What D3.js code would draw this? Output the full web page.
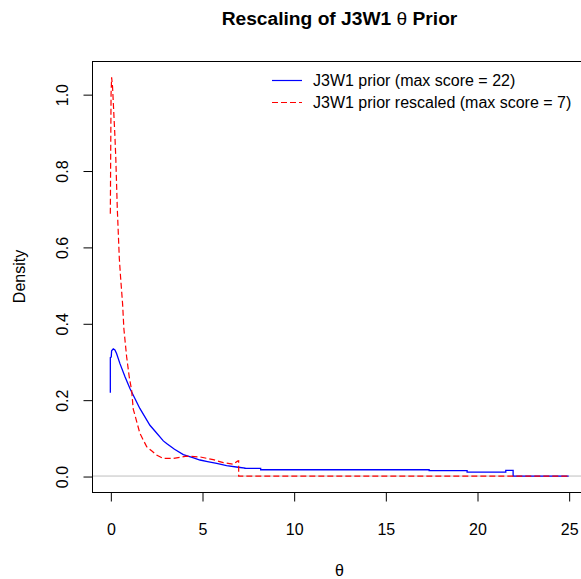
<!DOCTYPE html>
<html>
<head>
<meta charset="utf-8">
<script src="https://cdn.jsdelivr.net/npm/d3@7"></script>
<style>
  html, body { margin: 0; padding: 0; background: #fff; }
  svg { display: block; }
  text { font-family: "Liberation Sans", Arial, sans-serif; fill: #000; }
</style>
</head>
<body>
<svg id="chart" width="581" height="579"></svg>
<script>
// ---- Data ----
const xTicks = [0, 5, 10, 15, 20, 25];
const yTicks = [0.0, 0.2, 0.4, 0.6, 0.8, 1.0];
const yTickLabels = ["0.0", "0.2", "0.4", "0.6", "0.8", "1.0"];
const seriesNames = ["J3W1 prior (max score = 22)", "J3W1 prior rescaled (max score = 7)"];

// J3W1 prior (max score = 22): [theta, density]
const priorTheta = [0, 0, 0.05, 0.07, 0.16, 0.25, 0.34, 0.52, 0.8, 1.07, 1.34, 1.61, 2.16, 2.43, 2.89, 3.07, 3.5, 3.98, 4.5, 4.89, 5.3, 5.8, 6.34, 6.97, 7.34, 7.34, 8.2, 8.2, 17.39, 17.39, 19.46, 19.46, 21.57, 21.57, 21.97, 21.97, 25];
const priorDensity = [0.218, 0.31, 0.312, 0.328, 0.333, 0.330, 0.321, 0.295, 0.26, 0.229, 0.203, 0.177, 0.133, 0.118, 0.092, 0.085, 0.070, 0.056, 0.048, 0.042, 0.038, 0.033, 0.027, 0.023, 0.021, 0.020, 0.020, 0.0165, 0.0165, 0.014, 0.014, 0.0105, 0.0105, 0.015, 0.015, 0, 0];

// J3W1 prior rescaled (max score = 7): [theta, density]
const rescaledTheta = [0, 0.04, 0.07, 0.12, 0.18, 0.25, 0.3, 0.38, 0.49, 0.56, 0.67, 0.74, 0.89, 1.03, 1.16, 1.25, 1.34, 1.61, 1.98, 2.25, 2.52, 2.89, 3.4, 3.8, 4.16, 4.89, 5.61, 6.16, 6.7, 6.94, 7, 7, 25];
const rescaledDensity = [0.687, 1.0, 1.044, 1.02, 0.96, 0.89, 0.83, 0.70, 0.57, 0.52, 0.45, 0.385, 0.312, 0.26, 0.225, 0.175, 0.160, 0.112, 0.077, 0.066, 0.055, 0.046, 0.046, 0.049, 0.052, 0.050, 0.043, 0.035, 0.031, 0.039, 0.040, 0, 0];

// ---- Layout ----
const svg = d3.select("#chart");
const mLeft = 92, mRight = 587, mTop = 61, mBottom = 492;

const x = d3.scaleLinear().domain([-1, 26]).range([mLeft, mRight]);
const y = d3.scaleLinear().domain([-0.0418, 1.0868]).range([mBottom, mTop]);

// zero reference line (grey)
svg.append("line")
  .attr("x1", mLeft).attr("x2", mRight)
  .attr("y1", y(0)).attr("y2", y(0))
  .attr("stroke", "#BEBEBE").attr("stroke-width", 1);

const line = d3.line().x(d => x(d[0])).y(d => y(d[1]));
const prior = priorTheta.map((t, i) => [t, priorDensity[i]]);
const rescaled = rescaledTheta.map((t, i) => [t, rescaledDensity[i]]);

svg.append("path").datum(prior)
  .attr("d", line).attr("fill", "none")
  .attr("stroke", "#0000FF").attr("stroke-width", 1.3);

svg.append("path").datum(rescaled)
  .attr("d", line).attr("fill", "none")
  .attr("stroke", "#FF0000").attr("stroke-width", 1.2)
  .attr("stroke-dasharray", "6,3");

// box
svg.append("rect")
  .attr("x", mLeft + 0.5).attr("y", mTop + 0.5)
  .attr("width", mRight - mLeft).attr("height", mBottom - mTop)
  .attr("fill", "none").attr("stroke", "#000").attr("stroke-width", 1);

const fontFam = '"Liberation Sans", Arial, sans-serif';

// x axis
const xAxis = d3.axisBottom(x).tickValues(xTicks).tickSize(9).tickPadding(0).tickFormat(d3.format("d"));
const gx = svg.append("g").attr("transform", `translate(0.5,${mBottom + 0.5})`).call(xAxis);
gx.select(".domain").attr("d", `M${x(0)},0H${x(25)}`).attr("stroke", "#000");
gx.selectAll(".tick line").attr("stroke", "#000");
gx.selectAll(".tick text").attr("y", 0).attr("dy", 0)
  .attr("transform", `translate(0,${534 - mBottom})`)
  .style("font-size", "16px").style("font-family", fontFam).attr("fill", "#000");

// y axis
const yAxis = d3.axisLeft(y).tickValues(yTicks).tickSize(9).tickFormat((d, i) => yTickLabels[i]);
const gy = svg.append("g").attr("transform", `translate(${mLeft + 0.5},0.5)`).call(yAxis);
gy.select(".domain").attr("d", `M0,${y(0)}V${y(1)}`).attr("stroke", "#000");
gy.selectAll(".tick line").attr("stroke", "#000");
gy.selectAll(".tick text")
  .attr("x", null).attr("dy", null).attr("y", 0)
  .attr("text-anchor", "middle")
  .attr("transform", `translate(${67 - mLeft},0) rotate(-90)`)
  .style("font-size", "16px").style("font-family", fontFam).attr("fill", "#000");

// title
const title = svg.append("text")
  .attr("x", (mLeft + mRight) / 2).attr("y", 25)
  .attr("text-anchor", "middle")
  .style("font-size", "19.2px").style("font-weight", "bold");
title.append("tspan").text("Rescaling of J3W1 ");
title.append("tspan").style("font-weight", "normal").text("θ");
title.append("tspan").text(" Prior");

// axis titles
svg.append("text")
  .attr("x", (mLeft + mRight) / 2).attr("y", 576)
  .attr("text-anchor", "middle").style("font-size", "16px")
  .text("θ");
svg.append("text")
  .attr("transform", `translate(25,${(mTop + mBottom) / 2}) rotate(-90)`)
  .attr("text-anchor", "middle").style("font-size", "16px")
  .text("Density");

// legend
const legend = svg.append("g");
const legendColors = ["#0000FF", "#FF0000"];
const legendDash = [null, "6,3"];
seriesNames.forEach((name, i) => {
  const ly = 80 + i * 22;
  legend.append("line")
    .attr("x1", 272).attr("x2", 302).attr("y1", ly + 0.5).attr("y2", ly + 0.5)
    .attr("stroke", legendColors[i]).attr("stroke-width", 1.2)
    .attr("stroke-dasharray", legendDash[i]);
  legend.append("text")
    .attr("x", 313).attr("y", ly + 6)
    .style("font-size", "16px")
    .text(name);
});
</script>
</body>
</html>
